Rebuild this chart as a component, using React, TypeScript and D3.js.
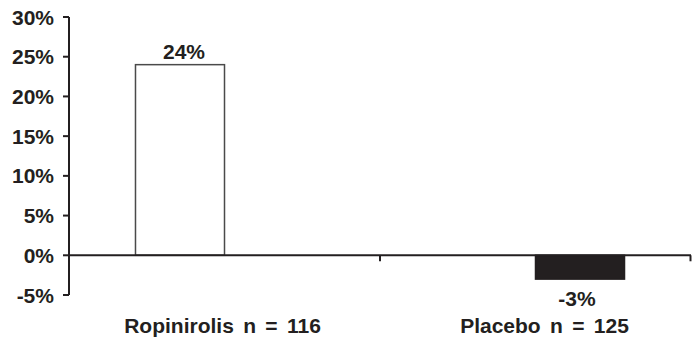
import React from "react";
import * as d3 from "d3";

const categories = ["Ropinirolis n = 116", "Placebo n = 125"];
const seriesNames = ["Ropinirolis", "Placebo"];
const ropinirolisValues = [24, 0];
const placeboValues = [0, -3];
const yTicks = [-5, 0, 5, 10, 15, 20, 25, 30];

const W = 692;
const H = 338;
const INK = "#231f20";
const FONT = "'Liberation Sans', Arial, Helvetica, sans-serif";

export default function App() {
  const y = d3.scaleLinear().domain([-5, 30]).range([295, 17]);
  const x = d3.scaleBand<string>().domain(categories).range([69, 691]).paddingInner(0).paddingOuter(0);
  const xs = d3.scaleBand<string>().domain(seriesNames).range([0, x.bandwidth()]).paddingInner(0).paddingOuter(0.747);
  const seriesData = [
    { name: "Ropinirolis", values: ropinirolisValues, fill: "#ffffff", stroke: "#4a4a4a" },
    { name: "Placebo", values: placeboValues, fill: INK, stroke: INK },
  ];
  const y0 = y(0);
  return (
    <svg width={W} height={H} style={{ position: "absolute", left: 0, top: 0, background: "#fff" }} fontFamily={FONT}>
      {seriesData.map((s) =>
        s.values.map((v, i) => {
          if (v === 0) return null;
          const bx = (x(categories[i]) as number) + (xs(s.name) as number);
          const top = Math.min(y(v), y0);
          const h = Math.abs(y(v) - y0);
          const cx = bx + xs.bandwidth() / 2;
          return (
            <g key={s.name + i}>
              <rect x={bx} y={top} width={xs.bandwidth()} height={h} fill={s.fill} stroke={s.stroke} strokeWidth={1.5} />
              <text
                x={cx + (v > 0 ? 4 : -3)}
                y={v > 0 ? y(v) - 6 : y(v) + 27}
                textAnchor="middle"
                fontSize={21}
                fontWeight="bold"
                fill={INK}
              >
                {v}%
              </text>
            </g>
          );
        })
      )}
      {/* y axis */}
      <line x1={69} x2={69} y1={y(30)} y2={y(-5)} stroke={INK} strokeWidth={2} />
      {yTicks.map((t) => (
        <g key={t}>
          <line x1={63} x2={69} y1={y(t)} y2={y(t)} stroke={INK} strokeWidth={2} />
          <text x={54} y={y(t)} dy="0.36em" textAnchor="end" fontSize={21} fontWeight="bold" fill={INK}>
            {t}%
          </text>
        </g>
      ))}
      {/* category axis at zero */}
      <line x1={69} x2={691} y1={y0} y2={y0} stroke={INK} strokeWidth={2} />
      {categories.map((c, i) => {
        const right = (x(c) as number) + x.bandwidth();
        return (
          <line key={"t" + i} x1={Math.min(right, 690.5)} x2={Math.min(right, 690.5)} y1={y0} y2={y0 + 6} stroke={INK} strokeWidth={2} />
        );
      })}
      {categories.map((c, i) => (
        <text
          key={c}
          x={(x(c) as number) + x.bandwidth() / 2 + (i === 1 ? 9 : -2)}
          y={333}
          textAnchor="middle"
          fontSize={21}
          fontWeight="bold"
          wordSpacing={3.5}
          fill={INK}
        >
          {c}
        </text>
      ))}
    </svg>
  );
}
